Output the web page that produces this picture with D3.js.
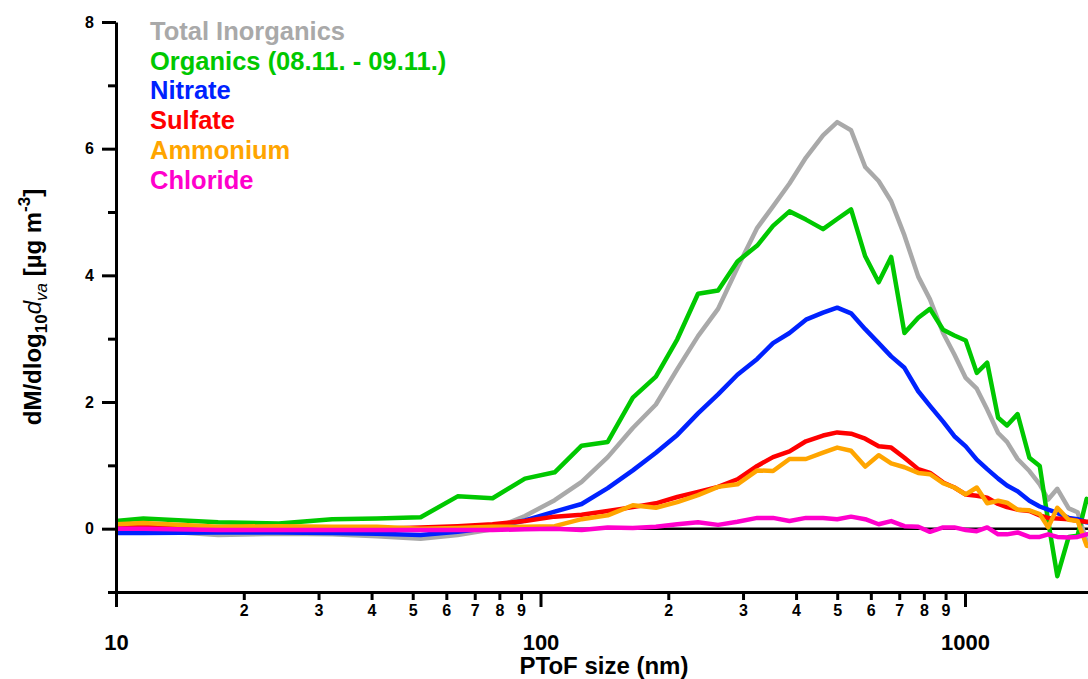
<!DOCTYPE html>
<html>
<head>
<meta charset="utf-8">
<script src="https://cdn.jsdelivr.net/npm/d3@7"></script>
<style>
body { margin: 0; background: #fff; }
svg { display: block; font-family: "Liberation Sans", Arial, sans-serif; font-weight: bold; }
</style>
</head>
<body>
<div id="chart"></div>
<script>
var width = 1088;
var height = 679;

// PToF size bins (nm)
var sizes = [10, 11.6, 17.4, 24.2, 32.3, 41.2, 52.2, 63.8, 77.1, 91.9, 108, 125, 144, 165, 187, 210, 235, 262, 291, 324,
	353, 386, 422, 463, 500, 539, 582, 626, 670, 720, 776, 827, 888, 944, 1004, 1066, 1128, 1197, 1256, 1330,
	1418, 1500, 1570, 1650, 1755, 1842, 1935, 2030];

var totalInorganics = [-0.02, -0.02, -0.10, -0.08, -0.09, -0.12, -0.16, -0.10, -0.01, 0.20, 0.45, 0.74, 1.13, 1.59, 1.96, 2.52, 3.04, 3.47, 4.12, 4.75,
	5.09, 5.45, 5.86, 6.21, 6.42, 6.29, 5.71, 5.49, 5.17, 4.63, 3.98, 3.62, 3.09, 2.75, 2.38, 2.21, 1.88, 1.51, 1.37, 1.10,
	0.91, 0.70, 0.46, 0.63, 0.32, 0.26, -0.21, -0.25];
var organics = [0.12, 0.16, 0.10, 0.08, 0.15, 0.16, 0.18, 0.51, 0.48, 0.79, 0.89, 1.31, 1.37, 2.07, 2.40, 2.99, 3.71, 3.76, 4.22, 4.47,
	4.78, 5.01, 4.88, 4.73, 4.89, 5.04, 4.30, 3.89, 4.29, 3.09, 3.33, 3.47, 3.14, 3.05, 2.97, 2.46, 2.62, 1.75, 1.63, 1.81,
	1.12, 0.99, 0.12, -0.75, -0.13, -0.11, 0.47, 0.30];
var nitrate = [-0.07, -0.07, -0.06, -0.06, -0.07, -0.08, -0.10, -0.05, 0.02, 0.13, 0.27, 0.39, 0.64, 0.92, 1.20, 1.48, 1.82, 2.12, 2.43, 2.68,
	2.93, 3.09, 3.30, 3.41, 3.49, 3.40, 3.15, 2.93, 2.72, 2.54, 2.17, 1.94, 1.69, 1.46, 1.30, 1.09, 0.94, 0.79, 0.68, 0.59,
	0.44, 0.35, 0.30, 0.25, 0.17, 0.15, 0.10, 0.08];
var sulfate = [0.04, 0.04, 0.02, 0.01, 0.01, 0.00, 0.02, 0.04, 0.07, 0.12, 0.19, 0.22, 0.28, 0.34, 0.40, 0.50, 0.58, 0.66, 0.78, 0.99,
	1.13, 1.22, 1.38, 1.47, 1.52, 1.50, 1.42, 1.30, 1.28, 1.12, 0.94, 0.88, 0.73, 0.65, 0.54, 0.52, 0.49, 0.39, 0.34, 0.30,
	0.28, 0.21, 0.17, 0.16, 0.15, 0.12, 0.11, 0.10];
var ammonium = [0.07, 0.09, 0.03, 0.04, 0.03, 0.03, 0.00, 0.01, 0.03, 0.03, 0.04, 0.15, 0.21, 0.37, 0.33, 0.42, 0.53, 0.66, 0.70, 0.92,
	0.91, 1.10, 1.10, 1.20, 1.28, 1.23, 0.98, 1.16, 1.03, 0.97, 0.88, 0.86, 0.72, 0.65, 0.54, 0.65, 0.40, 0.44, 0.41, 0.30,
	0.29, 0.23, 0.02, 0.33, 0.14, 0.12, -0.27, -0.30];
var chloride = [0.00, 0.00, -0.02, -0.02, -0.02, -0.02, -0.02, -0.02, -0.02, -0.01, 0.00, -0.02, 0.02, 0.01, 0.03, 0.07, 0.10, 0.06, 0.11, 0.17,
	0.17, 0.12, 0.17, 0.17, 0.15, 0.19, 0.15, 0.07, 0.12, 0.04, 0.03, -0.05, 0.02, 0.02, -0.02, -0.04, 0.02, -0.09, -0.09, -0.06,
	-0.13, -0.13, -0.09, -0.13, -0.14, -0.13, -0.09, -0.08];

var seriesNames = ["Total Inorganics", "Organics (08.11. - 09.11.)", "Nitrate", "Sulfate", "Ammonium", "Chloride"];
var seriesColors = ["#a9a9a9", "#00c800", "#0022ff", "#ff0000", "#ffa500", "#ff00cc"];
var seriesValues = [totalInorganics, organics, nitrate, sulfate, ammonium, chloride];

var yMajorTicks = [0, 2, 4, 6, 8];
var yMinorTicks = [-1, 1, 3, 5, 7];
var xMajorTicks = [10, 100, 1000];
var xMinorTicks = [20, 30, 40, 50, 60, 70, 80, 90, 200, 300, 400, 500, 600, 700, 800, 900, 2000];

var svg = d3.select("#chart")
	.append("svg")
	.attr("width", width)
	.attr("height", height);

// one decade is ~424.5 px wide, plot starts at x=116
var x = d3.scaleLog()
	.domain([10, 2200])
	.range([116, 116 + 424.5 * Math.log10(220)]);

var y = d3.scaleLinear()
	.domain([-1, 8])
	.range([592, 22]);

//zero line
svg.append("line")
	.attr("x1", x(10))
	.attr("x2", width)
	.attr("y1", y(0))
	.attr("y2", y(0))
	.style("stroke", "#000")
	.style("stroke-width", 2.5);

var line = d3.line()
	.x(function(d, i) { return x(sizes[i]); })
	.y(function(d) { return y(d); });

for (var s = 0; s < seriesValues.length; s++) {
	svg.append("path")
		.datum(seriesValues[s])
		.attr("d", line)
		.style("fill", "none")
		.style("stroke", seriesColors[s])
		.style("stroke-width", 4.5)
		.style("stroke-linejoin", "round");
}

// x axis: minor ticks with single digit labels, then major decades
var xMinor = svg.append("g")
	.attr("transform", "translate(0," + y(-1) + ")")
	.call(d3.axisBottom(x).tickValues(xMinorTicks).tickSize(8).tickSizeOuter(0)
		.tickFormat(function(d) { return String(d).charAt(0); }));
xMinor.selectAll("text").attr("y", 13).style("font-size", "16px");

var xMajor = svg.append("g")
	.attr("transform", "translate(0," + y(-1) + ")")
	.call(d3.axisBottom(x).tickValues(xMajorTicks).tickSize(15).tickSizeOuter(0).tickFormat(d3.format("d")));
xMajor.select(".domain").remove();
xMajor.selectAll("text").attr("y", 42).style("font-size", "22px");

var yMinor = svg.append("g")
	.attr("transform", "translate(" + x(10) + ",0)")
	.call(d3.axisLeft(y).tickValues(yMinorTicks).tickSize(8).tickSizeOuter(0).tickFormat(""));

var yMajor = svg.append("g")
	.attr("transform", "translate(" + x(10) + ",0)")
	.call(d3.axisLeft(y).tickValues(yMajorTicks).tickSize(14).tickSizeOuter(0).tickPadding(8).tickFormat(d3.format("d")));
yMajor.select(".domain").remove();
yMajor.selectAll("text").style("font-size", "16px");

svg.selectAll(".domain, .tick line")
	.style("stroke", "#000")
	.style("stroke-width", 3);
svg.selectAll(".tick text")
	.style("fill", "#000")
	.style("font-family", "'Liberation Sans', Arial, sans-serif")
	.style("font-weight", "bold");

// axis titles
svg.append("text")
	.attr("x", 604)
	.attr("y", 674)
	.attr("text-anchor", "middle")
	.style("font-size", "24px")
	.text("PToF size (nm)");

var ylab = svg.append("text")
	.attr("transform", "translate(41,307) rotate(-90)")
	.attr("text-anchor", "middle")
	.style("font-size", "24px");
ylab.append("tspan").text("dM/dlog");
ylab.append("tspan").attr("dy", 6).style("font-size", "17px").text("10");
ylab.append("tspan").attr("dy", -6).style("font-style", "italic").style("font-weight", "normal").text("d");
ylab.append("tspan").attr("dy", 6).style("font-size", "17px").style("font-style", "italic").style("font-weight", "normal").text("va");
ylab.append("tspan").attr("dy", -6).text(" [\u00b5g m");
ylab.append("tspan").attr("dy", -11).style("font-size", "17px").text("-3");
ylab.append("tspan").attr("dy", 11).text("]");

// legend
svg.selectAll(".legend")
	.data(seriesNames)
	.enter()
	.append("text")
	.attr("class", "legend")
	.attr("x", 150)
	.attr("y", function(d, i) { return 40 + i * 29.7; })
	.style("font-size", "25.5px")
	.style("fill", function(d, i) { return seriesColors[i]; })
	.text(function(d) { return d; });
</script>
</body>
</html>
